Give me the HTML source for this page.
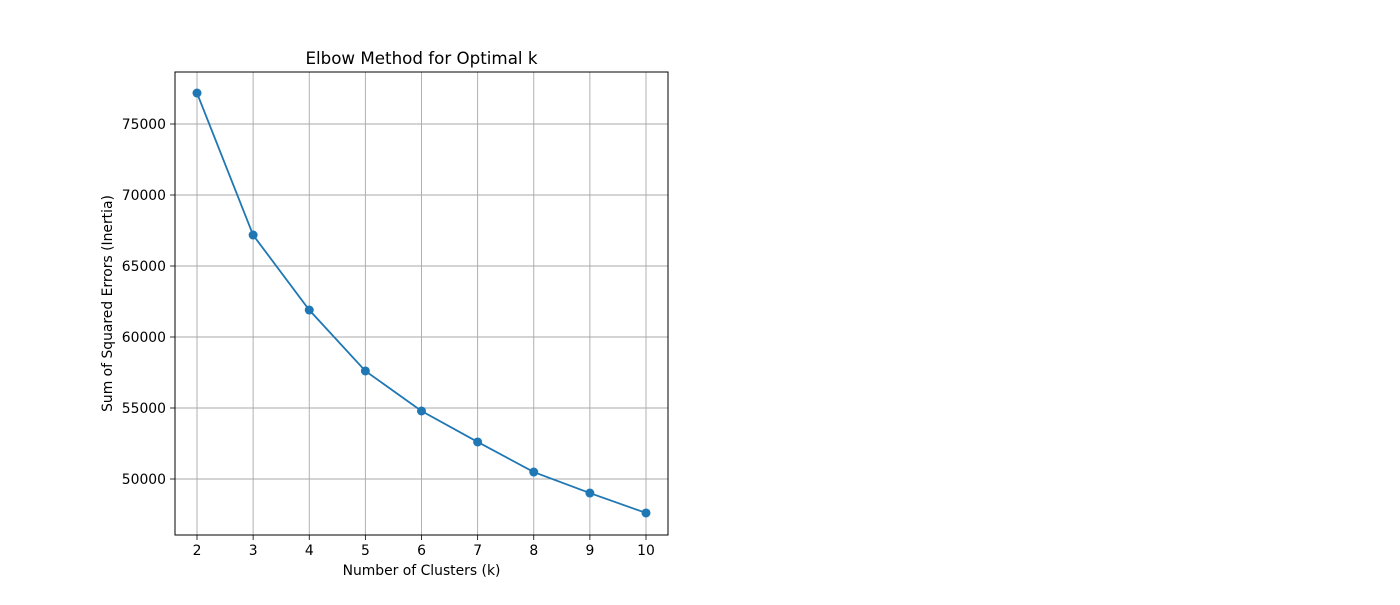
<!DOCTYPE html>
<html><head><meta charset="utf-8"><style>
body{margin:0;background:#fff;}
svg text{font-family:"DejaVu Sans","Liberation Sans",sans-serif;fill:#000;}
</style></head><body>
<svg id="chart" width="1400" height="600" xmlns="http://www.w3.org/2000/svg">
<rect width="1400" height="600" fill="#fff"/>
<g id="grid"></g>
<g id="xticks"></g>
<g id="yticks"></g>
<g id="series"></g>
<rect x="175" y="72" width="493" height="463" fill="none" stroke="#000" stroke-width="1"/>
<text x="421.5" y="64" font-size="16.7" text-anchor="middle">Elbow Method for Optimal k</text>
<text x="421.5" y="575" font-size="13.9" text-anchor="middle">Number of Clusters (k)</text>
<text transform="translate(112,303.5) rotate(-90)" font-size="13.9" text-anchor="middle">Sum of Squared Errors (Inertia)</text>
</svg>
<script>
const categories=[2,3,4,5,6,7,8,9,10];
const inertia=[77180,67180,61900,57610,54790,52610,50490,49010,47610];
const yTicks=[50000,55000,60000,65000,70000,75000];
const xTicks=[2,3,4,5,6,7,8,9,10];

const NS="http://www.w3.org/2000/svg";
function xs(v){return 197+(v-2)*(646-197)/8;}
function ys(v){return 479-(v-50000)*(479-124)/25000;}
function mk(tag,attrs,parent){const e=document.createElementNS(NS,tag);for(const k in attrs)e.setAttribute(k,attrs[k]);parent.appendChild(e);return e;}
const grid=document.getElementById('grid'),gx=document.getElementById('xticks'),gy=document.getElementById('yticks'),gs=document.getElementById('series');
xTicks.forEach(t=>{
  const x=xs(t);
  const l=mk('line',{x1:x,x2:x,y1:72,y2:535,stroke:'#a8a8a8','stroke-width':0.9},grid);
  
  
  const tk=mk('line',{x1:x,x2:x,y1:535,y2:540,stroke:'#000','stroke-width':0.8},gx);
  
  
  const tx=mk('text',{x:x,y:555,'font-size':13.9,'text-anchor':'middle'},gx);
  tx.textContent=t;
  
  
});
yTicks.forEach(t=>{
  const y=ys(t);
  const l=mk('line',{x1:175,x2:668,y1:y,y2:y,stroke:'#a8a8a8','stroke-width':0.9},grid);
  
  
  const tk=mk('line',{x1:170,x2:175,y1:y,y2:y,stroke:'#000','stroke-width':0.8},gy);
  
  
  const tx=mk('text',{x:166,y:y+5,'font-size':13.9,'text-anchor':'end'},gy);
  tx.textContent=t;
  
  
});
const pts=categories.map((c,i)=>xs(c)+','+ys(inertia[i])).join(' ');
const pl=mk('polyline',{points:pts,fill:'none',stroke:'#1f77b4','stroke-width':1.8},gs);


categories.forEach((c,i)=>{
  const p=mk('circle',{cx:xs(c),cy:ys(inertia[i]),r:4.5,fill:'#1f77b4'},gs);
  
  
});
</script>
</body></html>
